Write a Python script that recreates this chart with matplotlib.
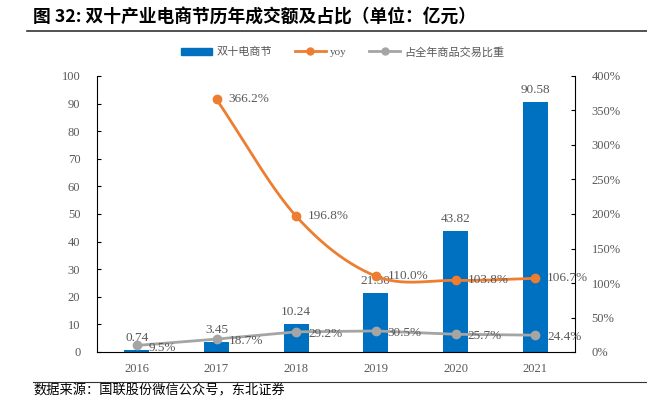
import numpy as np
import matplotlib
matplotlib.use("Agg")
import matplotlib.pyplot as plt
from matplotlib.lines import Line2D
from matplotlib.patches import Patch

years = ["2016", "2017", "2018", "2019", "2020", "2021"]
gmv = [0.74, 3.45, 10.24, 21.50, 43.82, 90.58]
yoy = [None, 366.2, 196.8, 110.0, 103.8, 106.7]
share = [9.5, 18.7, 29.2, 30.5, 25.7, 24.4]

BLUE = "#0070C0"
ORANGE = "#ED7D31"
GRAY = "#A5A5A5"
TXT = "#595959"
SERIF = ["Liberation Serif", "DejaVu Serif"]
CJK = ["Noto Sans CJK SC", "DejaVu Sans"]

def catmull(xs, ys, n=40):
    xs = np.asarray(xs, float); ys = np.asarray(ys, float)
    P = np.column_stack([xs, ys])
    P = np.vstack([P[0] - (P[1] - P[0]), P, P[-1] + (P[-1] - P[-2])])
    out = []
    for i in range(1, len(P) - 2):
        p0, p1, p2, p3 = P[i-1], P[i], P[i+1], P[i+2]
        t = np.linspace(0, 1, n)[:, None]
        seg = 0.5 * ((2*p1) + (-p0 + p2)*t + (2*p0 - 5*p1 + 4*p2 - p3)*t**2 + (-p0 + 3*p1 - 3*p2 + p3)*t**3)
        out.append(seg)
    out = np.vstack(out)
    return out[:, 0], out[:, 1]

fig = plt.figure(figsize=(6.47, 3.99), dpi=100)
ax = fig.add_axes([97/647, 1-352/399, (575-97)/647, (352-76)/399])
ax2 = ax.twinx()

x = np.arange(len(years))
ax.bar(x, gmv, width=0.31, color=BLUE, zorder=2)
for xi, v in zip(x, gmv):
    ax.text(xi, v + 2.2, f"{v:.2f}", ha="center", va="bottom", fontsize=9.5,
            color=TXT, family=SERIF)

ax.set_xlim(-0.5, 5.5)
ax.set_ylim(0, 100)
ax.set_yticks(range(0, 101, 10))
ax.set_xticks(x)
ax.set_xticklabels(years, family=SERIF, fontsize=9, color=TXT)
for lab in ax.get_yticklabels():
    lab.set_family(SERIF); lab.set_fontsize(9); lab.set_color(TXT)
ax.tick_params(axis="y", direction="in", length=3, color="black", pad=12)
ax.tick_params(axis="x", length=0, pad=8)
for s in ["top", "right"]:
    ax.spines[s].set_visible(False)
ax.spines["left"].set_color("black")
ax.spines["bottom"].set_color("black")

# yoy line
yx = [xi for xi, v in zip(x, yoy) if v is not None]
yv = [v for v in yoy if v is not None]
sx, sy = catmull(yx, yv)
ax2.plot(sx, sy, color=ORANGE, lw=2, zorder=3)
ax2.plot(yx, yv, "o", color=ORANGE, ms=6, zorder=4)
for xi, v in zip(yx, yv):
    ax2.text(xi + 0.15, v, f"{v:.1f}%", ha="left", va="center", fontsize=9.5,
             color=TXT, family=SERIF, zorder=5)

# share line
ax2.plot(x, share, color=GRAY, lw=2, marker="o", ms=6, zorder=3)
for xi, v in zip(x, share):
    ax2.text(xi + 0.15, v - 3, f"{v:.1f}%", ha="left", va="center", fontsize=9.5,
             color=TXT, family=SERIF, zorder=5)

ax2.set_ylim(0, 400)
ax2.set_yticks(range(0, 401, 50))
ax2.set_yticklabels([f"{t}%" for t in range(0, 401, 50)], family=SERIF, fontsize=9, color=TXT)
ax2.tick_params(axis="y", direction="in", length=3, color="black", pad=12)
for s in ["top", "left", "bottom"]:
    ax2.spines[s].set_visible(False)
ax2.spines["right"].set_color("black")

# legend
handles = [Patch(color=BLUE),
           Line2D([0], [0], color=ORANGE, lw=2, marker="o", ms=5),
           Line2D([0], [0], color=GRAY, lw=2, marker="o", ms=5)]
labels = ["双十电商节", "yoy", "占全年商品交易比重"]
leg = fig.legend(handles, labels, loc="center", bbox_to_anchor=(343/647, 1-52/399), ncol=3,
                 frameon=False, prop={"family": CJK, "size": 8}, labelcolor=TXT,
                 handlelength=2.8, columnspacing=2.0, handletextpad=0.4)
leg.get_texts()[1].set_family(SERIF)

# title and rules
fig.text(33/647, 1-18/399, "图 32: 双十产业电商节历年成交额及占比（单位：亿元）", ha="left", va="center",
         fontsize=12.8, fontweight="bold", family=CJK, color="black")
fig.add_artist(Line2D([27/647, 1], [1-31/399, 1-31/399], color="#333333", lw=1.2))
fig.add_artist(Line2D([33/647, 1], [1-382/399, 1-382/399], color="#333333", lw=0.8))
fig.text(33/647, 1-391/399, "数据来源：国联股份微信公众号，东北证券", ha="left", va="center",
         fontsize=9.5, family=CJK, color="black")

fig.savefig("out.png", dpi=100)
